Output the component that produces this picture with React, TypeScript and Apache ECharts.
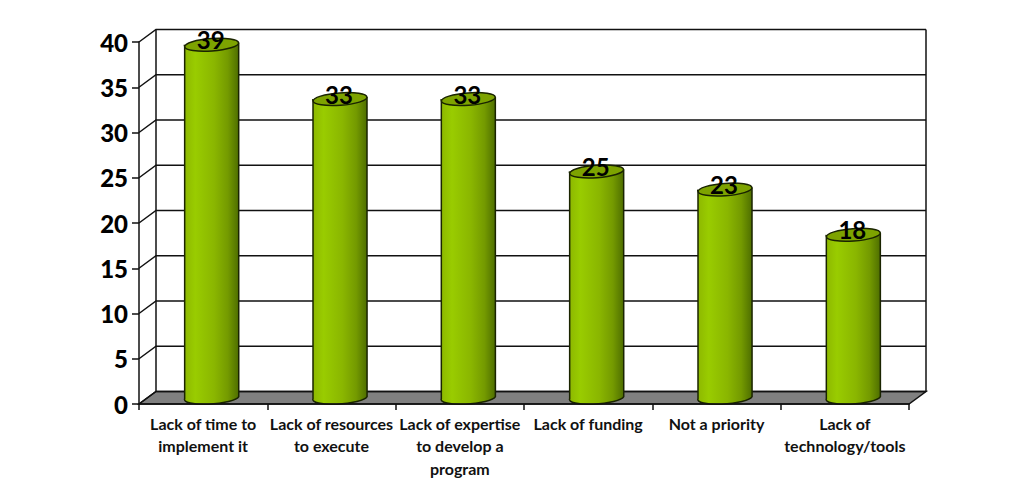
import React, { useEffect, useRef } from "react";
import * as echarts from "echarts";

const categories = [
  "Lack of time to\nimplement it",
  "Lack of resources\nto execute",
  "Lack of expertise\nto develop a\nprogram",
  "Lack of funding",
  "Not a priority",
  "Lack of\ntechnology/tools",
];
const values = [39, 33, 33, 25, 23, 18];
const yTicks = [0, 5, 10, 15, 20, 25, 30, 35, 40];

const DX = 17;
const DY = -12.5;
const FONT = "Lato, Carlito, 'Noto Sans', sans-serif";
const LINE = { stroke: "#111", lineWidth: 1.5, fill: "none" };

export default function App() {
  const ref = useRef<HTMLDivElement>(null);
  useEffect(() => {
    document.body.style.margin = "0";
    const chart = echarts.init(ref.current!, undefined, { renderer: "svg" });
    chart.setOption({
      animation: false,
      backgroundColor: "#fff",
      grid: { left: 139, top: 42, width: 770, height: 362 },
      xAxis: {
        type: "category",
        data: categories,
        z: 10,
        axisLine: { lineStyle: { color: "#111", width: 1.5 } },
        axisTick: { show: true, length: 6, alignWithLabel: false, lineStyle: { color: "#111", width: 1.5 } },
        axisLabel: { interval: 0, margin: 8, fontFamily: FONT, fontWeight: "bold", fontSize: 16, lineHeight: 22.5, color: "#111" },
      },
      yAxis: {
        type: "value",
        min: 0,
        max: 40,
        interval: 5,
        z: 10,
        axisLine: { show: true, lineStyle: { color: "#111", width: 1.5 } },
        axisTick: { show: true, length: 7, lineStyle: { color: "#111", width: 1.5 } },
        axisLabel: { margin: 11, fontFamily: FONT, fontWeight: 900, fontSize: 24, color: "#000" },
        splitLine: { show: false },
      },
      series: [
        {
          // floor of the 3-D box
          type: "custom",
          coordinateSystem: "cartesian2d",
          z: 1,
          silent: true,
          encode: { x: 0, y: 1 },
          data: [[0, 0]],
          renderItem: (params: any, api: any) => {
            const cs = params.coordSys;
            const y = api.coord([0, 0])[1];
            return {
              type: "polygon",
              shape: {
                points: [
                  [cs.x, y],
                  [cs.x + cs.width, y],
                  [cs.x + cs.width + DX, y + DY],
                  [cs.x + DX, y + DY],
                ],
              },
              style: { fill: "#808080", stroke: "#111", lineWidth: 1.5 },
            };
          },
        },
        {
          // grid lines running along the side and back walls
          type: "custom",
          coordinateSystem: "cartesian2d",
          z: 1,
          silent: true,
          encode: { x: 0, y: 1 },
          data: yTicks.map((t) => [0, t]),
          renderItem: (params: any, api: any) => {
            const cs = params.coordSys;
            const y = api.coord([0, api.value(1)])[1];
            const bx = cs.x + DX;
            const children: any[] = [
              { type: "polyline", shape: { points: [[cs.x, y], [bx, y + DY], [bx + cs.width, y + DY]] }, style: LINE },
            ];
            if (api.value(1) === 0) {
              children.push({
                type: "line",
                shape: { x1: bx, y1: y + DY, x2: bx, y2: cs.y + DY },
                style: LINE,
              });
              children.push({
                type: "line",
                shape: { x1: bx + cs.width, y1: y + DY, x2: bx + cs.width, y2: cs.y + DY },
                style: LINE,
              });
            }
            return { type: "group", children };
          },
        },
        {
          // cylinders
          type: "custom",
          coordinateSystem: "cartesian2d",
          z: 3,
          encode: { x: 0, y: 1 },
          data: values.map((v, i) => [i, v]),
          renderItem: (params: any, api: any) => {
            const v = api.value(1);
            const [fx, topF] = api.coord([api.value(0), v]);
            const baseF = api.coord([api.value(0), 0])[1];
            const cx = fx + DX / 2;
            const top = topF + DY / 2;
            const base = baseF + DY / 2 - 1;
            const rx = 27;
            const ry = 6.2;
            const tilt = 2;
            const d =
              `M${cx - rx} ${top + tilt} ` +
              `L${cx - rx} ${base + tilt} ` +
              `A${rx} ${ry} -4 0 0 ${cx + rx} ${base - tilt} ` +
              `L${cx + rx} ${top - tilt} ` +
              `A${rx} ${ry} -4 0 1 ${cx - rx} ${top + tilt} Z`;
            return {
              type: "group",
              children: [
                {
                  type: "path",
                  shape: { pathData: d },
                  style: {
                    fill: new echarts.graphic.LinearGradient(0, 0, 1, 0, [
                      { offset: 0, color: "#8DB800" },
                      { offset: 0.2, color: "#99CC00" },
                      { offset: 0.55, color: "#8AB600" },
                      { offset: 0.8, color: "#749A00" },
                      { offset: 1, color: "#4E6E00" },
                    ]),
                    stroke: "#1a2400",
                    lineWidth: 1.5,
                  },
                },
                {
                  type: "ellipse",
                  x: cx,
                  y: top,
                  rotation: 0.072,
                  shape: { cx: 0, cy: 0, rx, ry },
                  style: { fill: "#7DA300", stroke: "#1a2400", lineWidth: 1.5 },
                },
                {
                  type: "text",
                  x: cx - 1,
                  y: top - 5,
                  style: {
                    text: String(v),
                    fill: "#000",
                    font: `bold 24px ${FONT}`,
                    align: "center",
                    verticalAlign: "middle",
                  },
                },
              ],
            };
          },
        },
      ],
    });
    return () => chart.dispose();
  }, []);
  return <div ref={ref} style={{ width: 1024, height: 504 }} />;
}
